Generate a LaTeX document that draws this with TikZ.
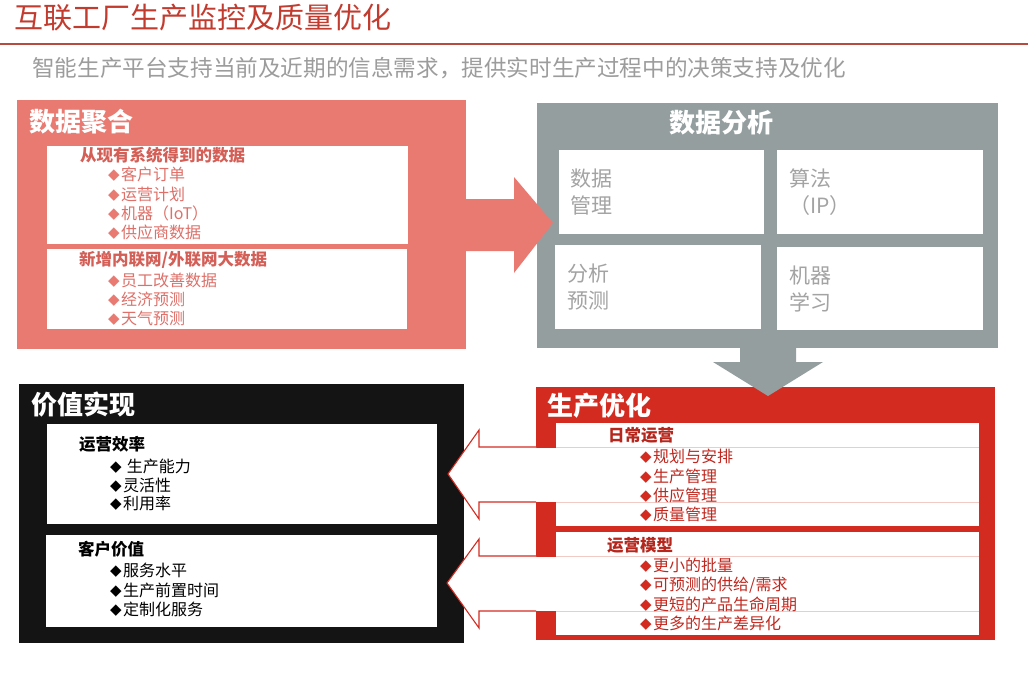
\documentclass[tikz,border=0pt]{standalone}
\usepackage{fontspec}
\setmainfont{Noto Sans CJK SC}
\newfontfamily\symf{DejaVu Sans}
\definecolor{titlered}{HTML}{C23B2F}
\definecolor{rulered}{HTML}{B84B3F}
\definecolor{subgray}{HTML}{9C9C9C}
\definecolor{salmon}{HTML}{E97A72}
\definecolor{salmonhead}{HTML}{D45F57}
\definecolor{salmontxt}{HTML}{DE7069}
\definecolor{boxgray}{HTML}{959E9F}
\definecolor{anatxt}{HTML}{A3A3A3}
\definecolor{boxred}{HTML}{D42B21}
\definecolor{redhead}{HTML}{B5261D}
\definecolor{redtxt}{HTML}{C0281F}
\definecolor{faint}{HTML}{F1C9C5}
\definecolor{boxblack}{HTML}{141414}
\newcommand\blk[6]{\node[#6,inner sep=0pt,outer sep=0pt,anchor=north west,minimum width={(#4-#2)*1pt},minimum height={(#5-#3)*1pt}] (#1) at (#2,#3) {};}
\newcommand\txt[5]{\node[anchor=west,inner sep=0pt,#4] (#1) at (#2,#3) {#5};}
\newcommand\dia[1]{\raisebox{0.8pt}{\symf\fontsize{15}{15}\selectfont\textcolor{#1}{◆}}\hspace{1.5pt}}
\tikzset{
  x=1pt,y=-1pt,
  boxtitle/.style={text=white,font=\bfseries\fontsize{26}{28}\selectfont},
  head/.style={font=\bfseries\fontsize{16.5}{18}\selectfont},
  item/.style={font=\fontsize{16}{18}\selectfont},
  ana/.style={text=anatxt,font=\fontsize{21}{27}\selectfont,align=left},
  outarrow/.style={fill=white,draw=boxred,line width=1.1pt,line join=miter},
  faintline/.style={draw=faint,line width=0.7pt}
}
\begin{document}
\begin{tikzpicture}
\useasboundingbox (0,0) rectangle (1028,674);
\fill[white] (0,0) rectangle (1028,674);
% title
\txt{title}{14}{18}{text=titlered,font=\fontsize{29}{31}\selectfont}{互联工厂生产监控及质量优化}
\draw[rulered,line width=1.5pt] (0,44) -- (1028,44);
\txt{sub}{32}{68}{text=subgray,font=\fontsize{22.6}{24}\selectfont}{智能生产平台支持当前及近期的信息需求，提供实时生产过程中的决策支持及优化}

% ---------- data aggregation ----------
\blk{agg}{17}{100}{466}{349}{fill=salmon}
\txt{aggt}{29}{122}{boxtitle}{数据聚合}
\blk{agg1}{47}{146}{408}{244}{fill=white}
\blk{agg2}{47}{249}{407}{329}{fill=white}
\txt{aggh1}{80}{155}{head,text=salmonhead}{从现有系统得到的数据}
\txt{aggi1}{108}{174}{item,text=salmontxt}{\dia{salmon}客户订单}
\txt{aggi2}{108}{194}{item,text=salmontxt}{\dia{salmon}运营计划}
\txt{aggi3}{108}{213}{item,text=salmontxt}{\dia{salmon}机器（IoT）}
\txt{aggi4}{108}{232}{item,text=salmontxt}{\dia{salmon}供应商数据}
\txt{aggh2}{79}{260}{head,text=salmonhead}{新增内联网/外联网大数据}
\txt{aggi5}{108}{280}{item,text=salmontxt}{\dia{salmon}员工改善数据}
\txt{aggi6}{108}{299}{item,text=salmontxt}{\dia{salmon}经济预测}
\txt{aggi7}{108}{318}{item,text=salmontxt}{\dia{salmon}天气预测}

% ---------- data analysis ----------
\blk{ana}{537}{103}{998}{348}{fill=boxgray}
\txt{anat}{669}{123}{boxtitle}{数据分析}
% arrow aggregation -> analysis
\fill[salmon] (agg.east |- 0,199) -- (514,199) -- (514,177) -- (553,223) -- (514,273) -- (514,251) -- (agg.east |- 0,251) -- cycle;
\blk{ana1}{559}{150}{764}{234}{fill=white}
\blk{ana2}{777}{150}{983}{234}{fill=white}
\blk{ana3}{555}{245}{761}{329}{fill=white}
\blk{ana4}{777}{247}{983}{330}{fill=white}
\node[ana,anchor=north west,inner sep=0pt] (ana1t) at (570,169) {数据\\管理};
\node[ana,anchor=north west,inner sep=0pt] (ana2t) at (789,169) {算法\\（IP）};
\node[ana,anchor=north west,inner sep=0pt] (ana3t) at (567,264) {分析\\预测};
\node[ana,anchor=north west,inner sep=0pt] (ana4t) at (789,266) {机器\\学习};

% ---------- value realisation ----------
\blk{val}{19}{384}{464}{643}{fill=boxblack}
\txt{valt}{31}{405}{boxtitle}{价值实现}
\blk{val1}{47}{424}{437}{524}{fill=white}
\blk{val2}{46}{535}{437}{627}{fill=white}
\txt{valh1}{79}{444}{head,text=black}{运营效率}
\txt{vali1}{110}{466}{item,text=black}{\dia{black} 生产能力}
\txt{vali2}{110}{485}{item,text=black}{\dia{black}灵活性}
\txt{vali3}{110}{503}{item,text=black}{\dia{black}利用率}
\txt{valh2}{78}{549}{head,text=black}{客户价值}
\txt{vali4}{110}{570}{item,text=black}{\dia{black}服务水平}
\txt{vali5}{110}{590}{item,text=black}{\dia{black}生产前置时间}
\txt{vali6}{110}{609}{item,text=black}{\dia{black}定制化服务}

% ---------- production optimisation ----------
\blk{opt}{536}{387}{995}{640}{fill=boxred}
\txt{optt}{547}{406}{boxtitle}{生产优化}
\blk{opt1}{556}{423}{979}{526}{fill=white}
\blk{opt2}{556}{532}{979}{635}{fill=white}
\draw[faintline] (opt1.west |- 0,447) -- (opt1.east |- 0,447);
\draw[faintline] (opt1.west |- 0,502) -- (opt1.east |- 0,502);
\draw[faintline] (opt2.west |- 0,556) -- (opt2.east |- 0,556);
\draw[faintline] (opt2.west |- 0,611) -- (opt2.east |- 0,611);
% arrows optimisation -> value
\fill[white] (478,447.5) rectangle (opt1.west |- 0,501.5);
\filldraw[outarrow] (opt.west |- 0,447) -- (479,447) -- (479,430) -- (448,474) -- (479,519) -- (479,502) -- (opt.west |- 0,502);
\fill[white] (478,556.5) rectangle (opt2.west |- 0,610.5);
\filldraw[outarrow] (opt.west |- 0,556) -- (479,556) -- (479,539) -- (447,583) -- (479,628) -- (479,611) -- (opt.west |- 0,611);
% arrow analysis -> optimisation
\fill[boxgray] (ana.south -| 740,0) -- (740,362) -- (713,362) -- (768,396) -- (823,362) -- (796,362) -- (ana.south -| 796,0) -- cycle;

\txt{opth1}{608}{435}{head,text=redhead}{日常运营}
\txt{opti1}{640}{456}{item,text=redtxt}{\dia{boxred}规划与安排}
\txt{opti2}{640}{476}{item,text=redtxt}{\dia{boxred}生产管理}
\txt{opti3}{640}{495}{item,text=redtxt}{\dia{boxred}供应管理}
\txt{opti4}{640}{514}{item,text=redtxt}{\dia{boxred}质量管理}
\txt{opth2}{607}{545}{head,text=redhead}{运营模型}
\txt{opti5}{640}{565}{item,text=redtxt}{\dia{boxred}更小的批量}
\txt{opti6}{640}{585}{item,text=redtxt}{\dia{boxred}可预测的供给/需求}
\txt{opti7}{640}{604}{item,text=redtxt}{\dia{boxred}更短的产品生命周期}
\txt{opti8}{640}{623}{item,text=redtxt}{\dia{boxred}更多的生产差异化}
\end{tikzpicture}
\end{document}
